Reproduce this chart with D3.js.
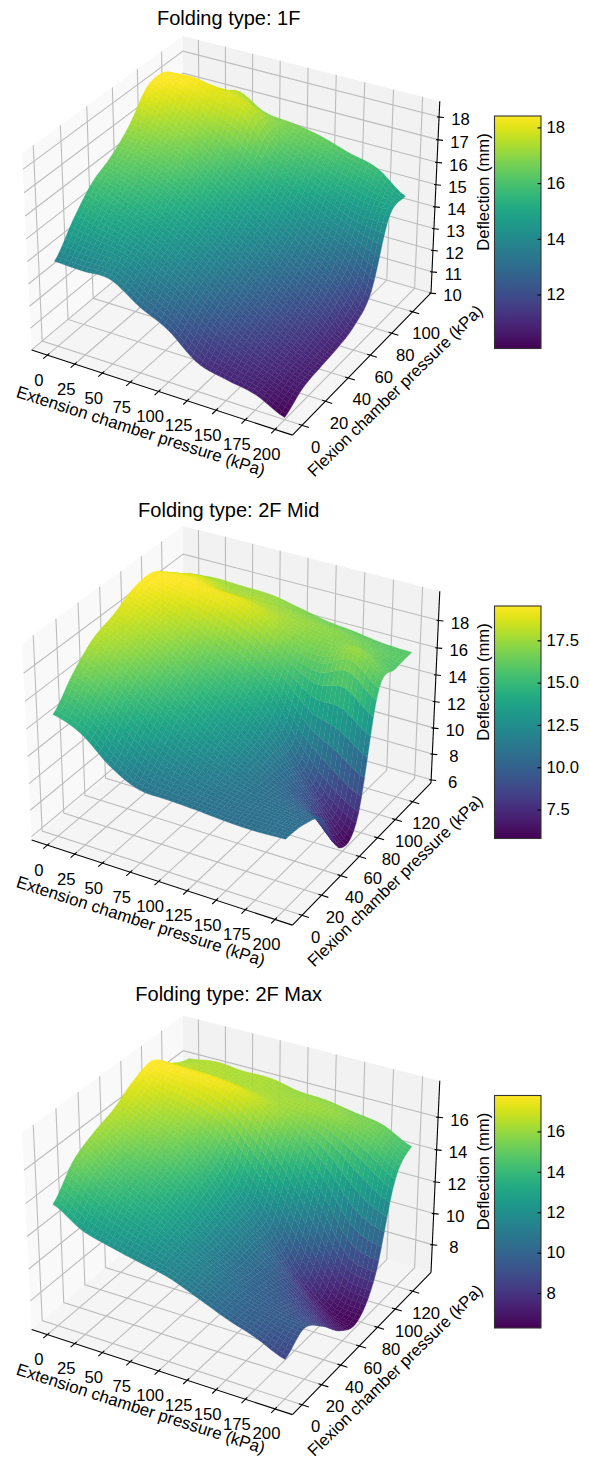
<!DOCTYPE html>
<html>
<head>
<meta charset="utf-8">
<script src="https://cdn.jsdelivr.net/npm/d3@7"></script>
<style>
html,body{margin:0;padding:0;background:#fff}
svg{display:block}
text{font-family:"Liberation Sans",Arial,sans-serif;fill:#000}
</style>
</head>
<body>
<svg id="fig" width="589" height="1459"></svg>
<script>
var extension = [0,25,50,75,100,125,150,175,200];
var flexion1 = [0,15,30,45,60,75,90,105];
var flexion2 = [0,19,38,57,76,95,114,132];
var flexion3 = [0,19,38,57,76,95,114,132];

// deflection (mm), one row per flexion value
var deflection1 = [
 [13.85,13.8,13.8,13.0,12.35,11.3,10.95,10.7,10.1],
 [15.0,14.7,14.4,13.8,13.1,12.2,11.5,11.0,10.6],
 [15.95,15.5,15.0,14.4,13.7,12.8,12.0,11.3,10.75],
 [16.45,16.2,15.7,15.0,14.2,13.4,12.5,11.7,10.85],
 [17.2,16.9,16.4,15.6,14.8,14.0,13.1,12.3,11.1],
 [18.3,17.7,17.1,16.3,15.5,14.7,13.9,13.1,11.9],
 [18.35,18.4,18.0,17.7,16.4,15.7,15.1,14.6,14.6],
 [17.5,17.1,17.55,16.9,16.75,16.5,16.1,15.75,14.85]
];
var deflection2 = [
 [14.8,14.0,12.25,11.2,11.1,11.0,10.85,10.8,10.9],
 [16.6,15.6,14.0,12.6,11.8,11.3,11.0,10.9,10.65],
 [17.95,17.0,15.6,14.2,12.9,11.9,11.0,10.3,9.65],
 [18.55,17.9,16.8,15.4,14.0,12.6,10.9,8.9,6.2],
 [19.35,18.7,17.9,16.8,15.6,13.9,10.9,8.6,7.2],
 [19.5,19.5,19.3,18.9,18.0,16.6,16.0,16.8,15.3],
 [18.45,18.7,18.05,18.0,17.6,17.3,17.0,16.6,15.8],
 [17.4,17.55,17.47,17.4,17.0,16.55,16.3,16.0,15.9]
];
var deflection3 = [
 [13.75,12.7,12.2,11.8,11.43,10.74,10.0,9.4,8.63],
 [15.35,14.2,13.3,12.6,11.7,10.9,10.0,9.6,9.4],
 [16.1,15.0,14.2,13.2,11.8,10.6,9.8,9.1,8.4],
 [16.6,15.9,15.2,14.0,12.2,10.8,9.4,8.0,7.0],
 [17.4,16.7,16.1,15.0,12.9,10.9,8.5,6.9,6.45],
 [17.78,17.7,17.6,17.2,16.0,14.0,11.5,8.8,8.3],
 [16.75,16.6,16.5,16.4,16.2,16.0,15.4,14.4,13.2],
 [16.2,16.44,16.3,16.3,15.96,15.85,15.55,15.25,14.4]
];

var xTicks = [0,25,50,75,100,125,150,175,200];
var yTicks1 = [0,20,40,60,80,100];
var yTicks2 = [0,20,40,60,80,100,120];
var zTicks1 = [10,11,12,13,14,15,16,17,18];
var zTicks2 = [6,8,10,12,14,16,18];
var zTicks3 = [8,10,12,14,16];
var barTicks1 = [12,14,16,18];
var barTicks2 = [7.5,10,12.5,15,17.5];
var barTicks3 = [8,10,12,14,16];
var titles = ["Folding type: 1F","Folding type: 2F Mid","Folding type: 2F Max"];

var panels = [
 {title:titles[0],top:0,titleY:25,labelY:436.5,ys:flexion1,zs:deflection1,yBox:[-8.02,118.02],zBox:[10,18.68],range:[10.06,18.41],yTicks:yTicks1,zTicks:zTicks1,barTicks:barTicks1,barFmt:"d"},
 {title:titles[1],top:490,titleY:516.5,labelY:926.5,ys:flexion2,zs:deflection2,yBox:[-9.62,141.62],zBox:[5.75,20.1],range:[5.79,19.53],yTicks:yTicks2,zTicks:zTicks2,barTicks:barTicks2,barFmt:".1f"},
 {title:titles[2],top:979.5,titleY:1000.7,labelY:1414,ys:flexion3,zs:deflection3,yBox:[-9.62,141.62],zBox:[6.19,18.2],range:[6.27,17.78],yTicks:yTicks2,zTicks:zTicks3,barTicks:barTicks3,barFmt:"d"}
];

var svg = d3.select("#fig");
var xBox = [-14.58,214.58];
var meshN = 50;

// view of the default 3d axes: elev 30, azim -60, dist 10
var el = 30*Math.PI/180, az = -60*Math.PI/180, dist = 10;
var w = [Math.cos(el)*Math.cos(az),Math.cos(el)*Math.sin(az),Math.sin(el)];
var uLen = Math.hypot(w[0],w[1]);
var u = [-w[1]/uLen,w[0]/uLen,0];
var v = [w[1]*u[2]-w[2]*u[1],w[2]*u[0]-w[0]*u[2],w[0]*u[1]-w[1]*u[0]];
function dot(a,b){return a[0]*b[0]+a[1]*b[1]+a[2]*b[2]}

function catmull(p0,p1,p2,p3,t){
	return 0.5*((2*p1)+(p2-p0)*t+(2*p0-5*p1+4*p2-p3)*t*t+(3*p1-p0-3*p2+p3)*t*t*t);
}
function sampleRow(arr,s){
	var n = arr.length-1, i = Math.min(Math.floor(s),n-1), t = s-i;
	return catmull(arr[Math.max(i-1,0)],arr[i],arr[i+1],arr[Math.min(i+2,n)],t);
}
function surfaceAt(zs,sx,sy){
	return sampleRow(zs.map(function(r){return sampleRow(r,sx)}),sy);
}

panels.forEach(function(pn){
	var sx = d3.scaleLinear().domain(xBox).range([-0.5952,0.5952]);
	var sy = d3.scaleLinear().domain(pn.yBox).range([-0.5952,0.5952]);
	var sz = d3.scaleLinear().domain(pn.zBox).range([-0.4464,0.4464]);
	var screenX = d3.scaleLinear().domain([0,1]).range([235,2745]);
	var screenY = d3.scaleLinear().domain([0,1]).range([226+pn.top,226+pn.top-2510]);
	var color = d3.scaleSequential(d3.interpolateViridis).domain(pn.range);

	function depth(pt){return dot(w,[sx(pt[0]),sy(pt[1]),sz(pt[2])])}
	function proj(pt){
		var p = [sx(pt[0]),sy(pt[1]),sz(pt[2])];
		var den = dist-dot(w,p);
		return [screenX(dot(u,p)/den),screenY(dot(v,p)/den)];
	}
	var line = d3.line().x(function(d){return proj(d)[0]}).y(function(d){return proj(d)[1]});

	var g = svg.append("g");
	var x0=xBox[0],x1=xBox[1],y0=pn.yBox[0],y1=pn.yBox[1],z0=pn.zBox[0],z1=pn.zBox[1];

	// panes
	var panes = [
		{c:"#f9f9f9",pts:[[x0,y0,z0],[x0,y1,z0],[x0,y1,z1],[x0,y0,z1]]},
		{c:"#f2f2f2",pts:[[x0,y1,z0],[x1,y1,z0],[x1,y1,z1],[x0,y1,z1]]},
		{c:"#f5f5f5",pts:[[x0,y0,z0],[x1,y0,z0],[x1,y1,z0],[x0,y1,z0]]}
	];
	g.selectAll("path.pane").data(panes).enter().append("path").attr("class","pane")
		.attr("d",function(d){return line(d.pts)+"Z"}).attr("fill",function(d){return d.c});

	// grid
	var grid = [];
	xTicks.forEach(function(t){grid.push([[t,y0,z0],[t,y1,z0],[t,y1,z1]])});
	pn.yTicks.forEach(function(t){grid.push([[x1,t,z0],[x0,t,z0],[x0,t,z1]])});
	pn.zTicks.forEach(function(t){grid.push([[x0,y0,t],[x0,y1,t],[x1,y1,t]])});
	g.selectAll("path.grid").data(grid).enter().append("path").attr("class","grid")
		.attr("d",line).attr("fill","none").attr("stroke","#bcbcbc").attr("stroke-width",1.1);

	// axis lines
	var axes = [[[x0,y0,z0],[x1,y0,z0]],[[x1,y0,z0],[x1,y1,z0]],[[x1,y1,z0],[x1,y1,z1]]];
	g.selectAll("path.axis").data(axes).enter().append("path").attr("class","axis")
		.attr("d",line).attr("fill","none").attr("stroke","#000").attr("stroke-width",1.1);

	// surface cells, far ones first
	var nx = pn.zs[0].length-1, ny = pn.zs.length-1, cells = [];
	var xAt = d3.scaleLinear().domain(d3.range(extension.length)).range(extension);
	var yAt = d3.scaleLinear().domain(d3.range(pn.ys.length)).range(pn.ys);
	var mesh = [];
	for(var j=0;j<=meshN;j++){
		var row = [], b = j/meshN*ny;
		for(var i=0;i<=meshN;i++){
			var a = i/meshN*nx;
			row.push([xAt(a),yAt(b),surfaceAt(pn.zs,a,b)]);
		}
		mesh.push(row);
	}
	for(var j=0;j<meshN;j++){
		for(var i=0;i<meshN;i++){
			var pts = [mesh[j][i],mesh[j][i+1],mesh[j+1][i+1],mesh[j+1][i]];
			cells.push({pts:pts,z:d3.mean(pts,function(d){return d[2]}),dp:d3.mean(pts,depth)});
		}
	}
	cells.sort(function(a,b){return d3.ascending(a.dp,b.dp)});
	g.selectAll("path.cell").data(cells).enter().append("path").attr("class","cell")
		.attr("d",function(d){return line(d.pts)+"Z"})
		.attr("fill",function(d){return color(d.z)})
		.attr("stroke",function(d){return color(d.z)}).attr("stroke-width",0.3);

	// ticks and tick labels
	var tickLines = [];
	xTicks.forEach(function(t){tickLines.push([[t,y0+0.012*(y1-y0),z0],[t,y0-0.025*(y1-y0),z0]])});
	pn.yTicks.forEach(function(t){tickLines.push([[x1-2.7,t,z0],[x1+5.7,t,z0]])});
	g.selectAll("path.tick").data(tickLines).enter().append("path").attr("class","tick")
		.attr("d",line).attr("fill","none").attr("stroke","#000").attr("stroke-width",1.1);
	g.selectAll("line.ztick").data(pn.zTicks).enter().append("line").attr("class","ztick")
		.attr("x1",function(d){return proj([x1,y1,d])[0]-2}).attr("x2",function(d){return proj([x1,y1,d])[0]+5})
		.attr("y1",function(d){return proj([x1,y1,d])[1]}).attr("y2",function(d){return proj([x1,y1,d])[1]+0.7})
		.attr("stroke","#000").attr("stroke-width",1.1);

	function labels(cls,data,pos,dx,dy){
		g.selectAll("text."+cls).data(data).enter().append("text").attr("class",cls)
			.attr("text-anchor","middle").attr("dy","0.36em").attr("font-size",16.67)
			.attr("x",function(d){return pos(d)[0]+dx}).attr("y",function(d){return pos(d)[1]+dy})
			.text(function(d){return d});
	}
	labels("xl",xTicks,function(t){return proj([t,y0,z0])},-8.5,24.5);
	labels("yl",pn.yTicks,function(t){return proj([x1,t,z0])},13.5,21.5);
	labels("zl",pn.zTicks,function(t){return proj([x1,y1,t])},21.5,2.5);

	// titles and axis names
	g.append("text").attr("x",228.7).attr("y",pn.titleY).attr("text-anchor","middle").attr("font-size",20).text(pn.title);
	g.append("text").attr("text-anchor","middle").attr("font-size",16.9)
		.attr("transform","translate(139,"+pn.labelY+") rotate(17.8)").text("Extension chamber pressure (kPa)");
	g.append("text").attr("text-anchor","middle").attr("font-size",16.67)
		.attr("transform","translate(399,"+(395+pn.top)+") rotate(-44.3)").text("Flexion chamber pressure (kPa)");
	g.append("text").attr("text-anchor","middle").attr("font-size",16.67)
		.attr("transform","translate(489,"+(192+pn.top)+") rotate(-90)").text("Deflection (mm)");

	// colour bar
	var barTop = 116+pn.top, barBottom = 348.5+pn.top;
	var barScale = d3.scaleLinear().domain(pn.range).range([barBottom,barTop]);
	var gid = "bar"+pn.top;
	var grad = svg.append("defs").append("linearGradient").attr("id",gid)
		.attr("x1",0).attr("x2",0).attr("y1",1).attr("y2",0);
	grad.selectAll("stop").data(d3.range(0,1.01,0.05)).enter().append("stop")
		.attr("offset",function(d){return d}).attr("stop-color",function(d){return d3.interpolateViridis(d)});
	g.append("rect").attr("x",494.5).attr("y",barTop).attr("width",46.5).attr("height",barBottom-barTop)
		.attr("fill","url(#"+gid+")").attr("stroke","#333").attr("stroke-width",1.1);
	var barAxis = d3.axisRight(barScale).tickValues(pn.barTicks).tickFormat(d3.format(pn.barFmt))
		.tickSizeInner(-3.5).tickSizeOuter(0).tickPadding(5.5);
	var ag = g.append("g").attr("transform","translate(541,0)").call(barAxis);
	ag.select(".domain").remove();
	ag.selectAll("line").attr("stroke","#000").attr("stroke-width",1.1);
	ag.selectAll("text").attr("font-size",16.67).attr("font-family",null);
});
</script>
</body>
</html>
